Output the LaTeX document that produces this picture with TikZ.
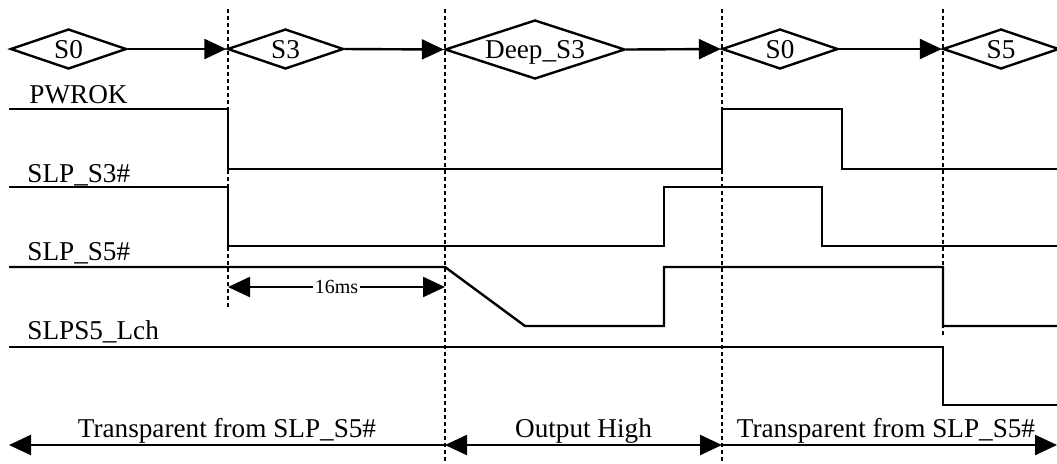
\documentclass[tikz,border=0pt]{standalone}
\usepackage{fontspec}
\setmainfont{Liberation Serif}
\usetikzlibrary{arrows.meta,shapes.geometric}
\tikzset{
  sig/.style={line width=1.2pt, line join=miter},
  vdash/.style={line width=1pt, dash pattern=on 2pt off 1.5pt},
  tip/.style={-{Triangle[length=11pt,width=10pt]}},
  bothtip/.style={{Triangle[length=11pt,width=10pt]}-{Triangle[length=11pt,width=10pt]}},
  state/.style={draw, line width=1.2pt, shape=diamond, inner sep=0pt, aspect=3,
    font=\fontsize{13.6}{15}\selectfont, text height=10pt, text depth=1pt},
  small/.style={state, minimum width=58pt, minimum height=20pt},
  big/.style={state, minimum width=90pt, minimum height=29.5pt},
  lbl/.style={font=\fontsize{13.6}{15}\selectfont, inner sep=0pt},
  conn/.style={line width=1.2pt, tip},
}
\begin{document}
\begin{tikzpicture}[x=0.5pt, y=-0.5pt]
\useasboundingbox (0,0) rectangle (1057,463);
% dashed time markers
\coordinate (d1t) at (228,9);  \coordinate (d1b) at (228,307);
\coordinate (d2t) at (445,9);  \coordinate (d2b) at (445,463);
\coordinate (d3t) at (722,9);  \coordinate (d3b) at (722,463);
\coordinate (d4t) at (943,9);  \coordinate (d4b) at (943,337);
\draw[vdash] (d1t) -- (d1b);
\draw[vdash] (d2t) -- (d2b);
\draw[vdash] (d3t) -- (d3b);
\draw[vdash] (d4t) -- (d4b);
% states
\node[small] (sA) at (68.5,49) {S0};
\node[small] (sB) at (285.5,49) {S3};
\node[big]   (sC) at (535,49.5) {Deep\_S3};
\node[small] (sD) at (780,49) {S0};
\node[small] (sE) at (1001,49) {S5};
\draw[conn] (sA.east) -- (sB.west);
\draw[conn] (sB.east) -- (sC.west);
\draw[conn] (sC.east) -- (sD.west);
\draw[conn] (sD.east) -- (sE.west);
% signal labels
\node[lbl, anchor=base west] (lpw) at (29,103) {PWROK};
\node[lbl, anchor=base west] (ls3) at (27,182) {SLP\_S3\#};
\node[lbl, anchor=base west] (ls5) at (27,260) {SLP\_S5\#};
\node[lbl, anchor=base west] (llc) at (27,339) {SLPS5\_Lch};
% waveforms
\draw[sig] (9,109) -- (228,109) -- (228,169) -- (722,169) -- (722,109) -- (842,109) -- (842,169) -- (1057,169);
\draw[sig] (9,187) -- (228,187) -- (228,246) -- (664,246) -- (664,187) -- (822,187) -- (822,246) -- (1057,246);
\draw[sig] (9,267) -- (445,267) -- (525,326) -- (664,326) -- (664,267) -- (943,267) -- (943,326) -- (1057,326);
\draw[sig] (9,347) -- (943,347) -- (943,405) -- (1057,405);
% 16ms
\coordinate (m1) at (228,287);
\coordinate (m2) at (445,287);
\draw[line width=1.2pt, bothtip] (m1) -- (m2)
  node[midway, fill=white, inner sep=1pt, font=\fontsize{10}{12}\selectfont] (t16) {16ms};
% bottom spans
\coordinate (b0) at (9,445);
\coordinate (b1) at (445,445);
\coordinate (b2) at (722,445);
\coordinate (b3) at (1057,445);
\draw[line width=1.2pt, tip] (b1) -- (b0);
\draw[line width=1.2pt, bothtip] (b1) -- (b2);
\draw[line width=1.2pt, tip] (b2) -- (b3);
\node[lbl, anchor=base] (tl) at (227,437) {Transparent from SLP\_S5\#};
\node[lbl, anchor=base] (tm) at (583.5,437) {Output High};
\node[lbl, anchor=base] (tr) at (886,437) {Transparent from SLP\_S5\#};
\end{tikzpicture}
\end{document}
